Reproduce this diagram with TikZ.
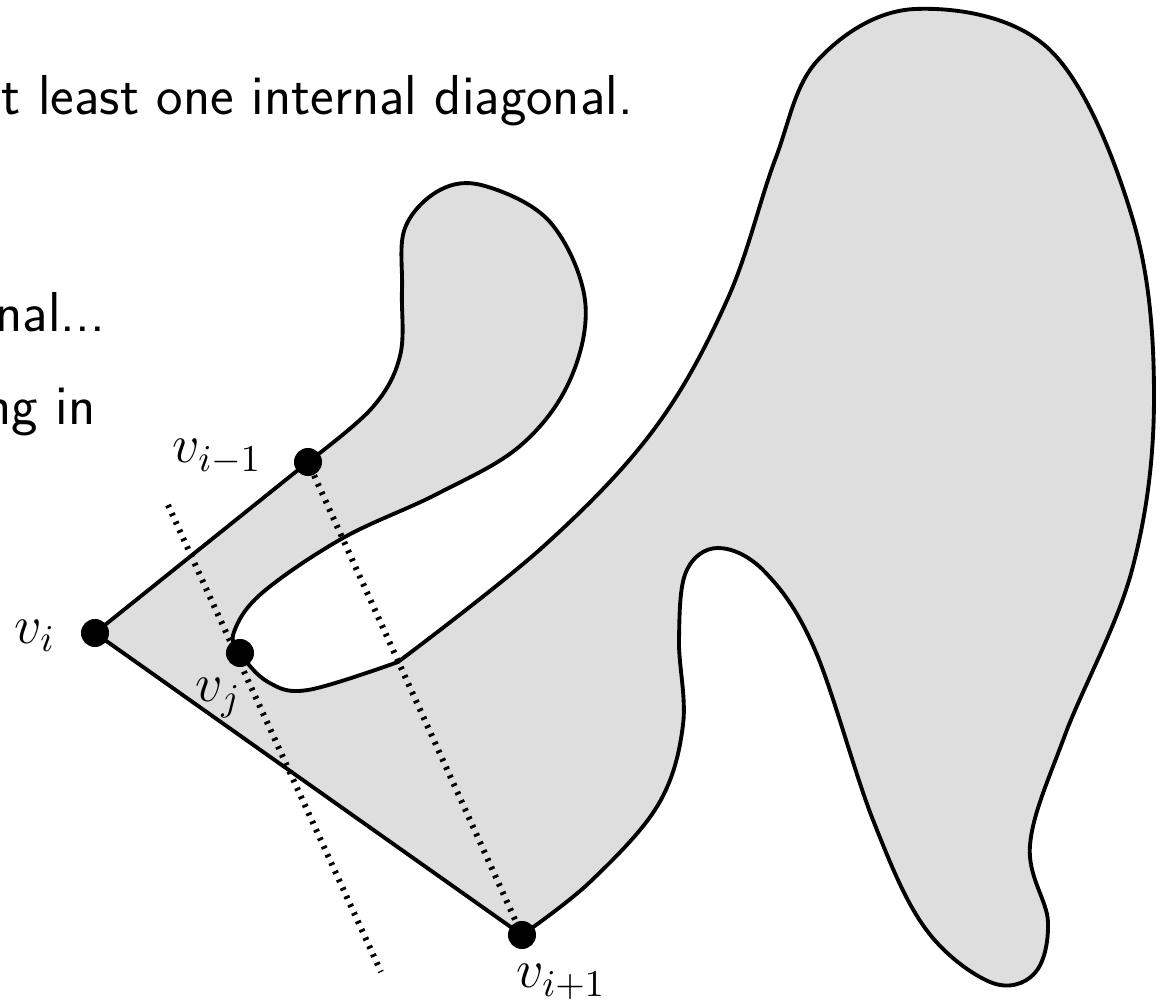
\RequirePackage{fix-cm}
\documentclass[tikz,border=0pt]{standalone}
\usetikzlibrary{backgrounds}
\begin{document}
\begin{tikzpicture}[x=0.01cm, y=-0.01cm,
        sommet/.style={circle, fill, inner sep=0pt, minimum size=0.28cm},
        etiquette/.style={anchor=base west, inner sep=0pt, font=\fontsize{15.4}{18}\selectfont},
        texte/.style={anchor=base west, inner sep=0pt, font=\fontsize{16}{19}\selectfont\sffamily},
        polygone/.style={line width=1.1pt, fill=black!13},
        diagonale/.style={line width=1.7pt, dash pattern=on 0.8pt off 1.8pt}]
    \useasboundingbox (0,0) rectangle (1162,1003);
    % le texte du transparent, coupé à gauche
    \node[texte] (ligne1) at (1,115) {t least one internal diagonal.};
    \node[texte] (ligne2) at (-5,331) {nal...};
    \node[texte] (ligne3) at (-16,425) {ng in};
    % les sommets
    \node[sommet] (vi) at (95,633) {};
    \node[sommet] (vim) at (308,462) {};
    \node[sommet] (vj) at (240,653) {};
    \node[sommet] (vip) at (522,935) {};
    \node[etiquette] (lvi) at (14,643) {$v_i$};
    \node[etiquette] (lvim) at (172,463) {$v_{i-1}$};
    \node[etiquette] (lvj) at (195,702) {$v_j$};
    \node[etiquette] (lvip) at (516,988) {$v_{i+1}$};
    \coordinate (da) at (168,505);
    \coordinate (db) at (381,972);
    \begin{scope}[on background layer]
        \filldraw[polygone]
            (vi.center) -- (vim.center)
            -- plot[smooth, tension=0.6] coordinates {
                (308,462) (372,408) (400,356) (402,290) (405,228) (440,190)
                (485,186) (550,222) (585,300) (570,380) (520,446) (437,494)
                (343,538) (262,593) (234,632) (240,653) (268,682) (308,690) (398,662)}
            -- plot[smooth, tension=0.6] coordinates {
                (398,662) (545,545) (655,428) (728,298) (775,160) (818,60)
                (915,9) (1050,50) (1133,220) (1154,400) (1132,570) (1065,735)
                (1030,845) (1048,922) (1034,974) (990,982) (925,928) (873,820)
                (815,650) (765,572) (718,548) (686,572) (679,640) (683,725)
                (658,805) (590,882) (522,935)}
            -- (vip.center) -- cycle;
        \draw[diagonale] (vim) -- (vip);
        \draw[diagonale] (da) -- (db);
    \end{scope}
\end{tikzpicture}
\end{document}
